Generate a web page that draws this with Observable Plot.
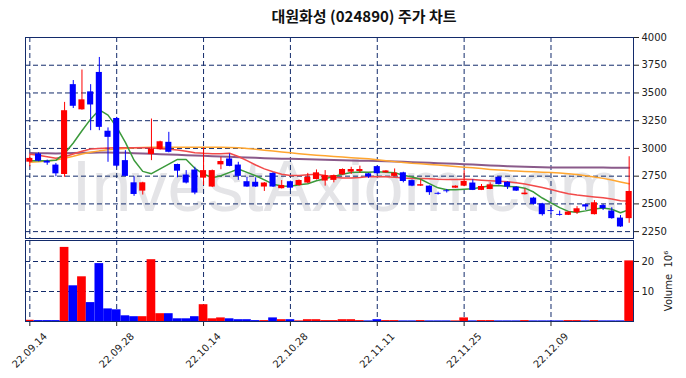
<!DOCTYPE html>
<html><head><meta charset="utf-8">
<script src="https://cdn.jsdelivr.net/npm/d3@7"></script>
<script src="https://cdn.jsdelivr.net/npm/@observablehq/plot@0.6"></script>
<style>
body{margin:0;background:#fff;}
#wrap{position:relative;width:686px;height:378px;overflow:hidden;background:#fff;}
#title{position:absolute;left:21px;width:686px;top:8px;line-height:15px;text-align:center;font-family:"Noto Sans CJK KR";font-size:15px;font-weight:bold;color:#111;z-index:3;}
#price{position:absolute;left:0;top:0;}
#vol{position:absolute;left:0;top:239px;}
</style></head><body>
<div id="wrap"><div id="title">대원화성 (024890) 주가 차트</div><div id="price"></div><div id="vol"></div></div>
<script>
const dates = ["22.09.14","22.09.15","22.09.16","22.09.19","22.09.20","22.09.21","22.09.22","22.09.23","22.09.26","22.09.27",
"22.09.28","22.09.29","22.09.30","22.10.04","22.10.05","22.10.06","22.10.07","22.10.11","22.10.12","22.10.13",
"22.10.14","22.10.17","22.10.18","22.10.19","22.10.20","22.10.21","22.10.24","22.10.25","22.10.26","22.10.27",
"22.10.28","22.10.31","22.11.01","22.11.02","22.11.03","22.11.04","22.11.07","22.11.08","22.11.09","22.11.10",
"22.11.11","22.11.14","22.11.15","22.11.16","22.11.17","22.11.18","22.11.21","22.11.22","22.11.23","22.11.24",
"22.11.25","22.11.28","22.11.29","22.11.30","22.12.01","22.12.02","22.12.05","22.12.06","22.12.07","22.12.08",
"22.12.09","22.12.12","22.12.13","22.12.14","22.12.15","22.12.16","22.12.19","22.12.20","22.12.21","22.12.22"];
const open = [2876,2950,2885,2850,2765,3575,3348,3510,3685,3155,
3270,2890,2690,2615,2945,2990,3055,2855,2760,2805,
2732,2652,2852,2905,2850,2700,2695,2652,2775,2637,
2700,2666,2688,2720,2706,2712,2762,2786,2792,2771,
2836,2780,2748,2780,2710,2660,2660,2595,2618,2642,
2660,2688,2622,2630,2740,2695,2650,2583,2552,2500,
2439,2405,2397,2420,2492,2403,2485,2435,2372,2367];
const high = [2940,2960,2895,2865,3415,3612,3707,3575,3820,3185,
3280,2980,2745,2695,3265,3065,3145,2858,2800,2830,
3005,2805,2920,2950,2875,2740,2735,2692,2780,2710,
2705,2715,2775,2806,2800,2760,2815,2830,2840,2775,
2840,2800,2815,2785,2715,2717,2662,2605,2630,2662,
2800,2717,2675,2690,2745,2700,2655,2636,2560,2505,
2466,2435,2430,2475,2495,2530,2495,2465,2395,2925];
const low = [2835,2880,2848,2745,2740,3360,3345,3160,3160,2875,
2830,2745,2568,2580,2890,2985,2960,2735,2680,2582,
2665,2648,2808,2835,2712,2650,2648,2612,2648,2634,
2622,2660,2683,2715,2660,2690,2758,2765,2775,2730,
2768,2776,2745,2690,2655,2657,2577,2580,2598,2640,
2655,2620,2620,2628,2670,2630,2612,2580,2490,2390,
2402,2390,2395,2405,2440,2400,2440,2362,2288,2325];
const close = [2910,2885,2868,2771,3340,3380,3438,3392,3190,3100,
2840,2748,2585,2690,2995,3060,2965,2795,2688,2598,
2800,2800,2882,2838,2748,2652,2652,2688,2652,2666,
2642,2711,2740,2780,2755,2755,2810,2810,2810,2742,
2772,2797,2777,2702,2660,2673,2601,2587,2610,2660,
2702,2622,2657,2672,2675,2652,2615,2597,2496,2403,
2431,2397,2426,2456,2472,2510,2457,2367,2292,2612];
const volume = [0.4,0.3,0.3,0.3,24.7,11.9,14.9,6.3,19.3,4.2,
3.9,1.9,1.6,1.6,20.6,2.6,2.6,0.9,0.9,1.6,
5.6,0.9,1.2,0.9,0.6,0.6,0.3,0.3,1.2,0.6,
0.6,0.2,0.6,0.6,0.3,0.3,0.6,0.6,0.3,0.2,
0.6,0.3,0.3,0.2,0.2,0.3,0.2,0.2,0.2,0.2,
1.2,0.2,0.3,0.3,0.2,0.2,0.2,0.3,0.2,0.2,
0.2,0.2,0.3,0.3,0.2,0.3,0.2,0.2,0.2,20.2];
const ma5 = [2890,2890,2888,2893,2955,3049,3159,3264,3348,3300,
3192,3054,2893,2793,2772,2816,2859,2901,2901,2821,
2769,2736,2754,2784,2814,2784,2754,2716,2678,2662,
2660,2672,2682,2708,2726,2748,2768,2782,2788,2785,
2789,2786,2780,2758,2742,2722,2683,2645,2627,2627,
2633,2637,2651,2663,2666,2656,2654,2642,2607,2553,
2509,2466,2432,2424,2437,2453,2464,2452,2420,2448];
const ma20 = [2948,2938,2925,2912,2925,2950,2975,2995,3000,3003,
3005,3005,3005,3005,3005,2998,2992,2985,2975,2962,
2956,2952,2953,2956,2927,2890,2851,2816,2789,2767,
2757,2755,2763,2768,2756,2740,2733,2733,2739,2747,
2745,2745,2740,2733,2729,2730,2727,2722,2720,2720,
2723,2719,2714,2709,2705,2700,2690,2679,2664,2647,
2630,2610,2592,2580,2571,2563,2555,2544,2528,2526];
const ma60 = [2876,2880,2886,2895,2912,2930,2950,2965,2978,2988,
2995,3000,3005,3008,3010,3011,3011,3011,3011,3011,
3011,3011,3010,3008,3005,3000,2992,2984,2976,2968,
2960,2953,2946,2939,2933,2927,2922,2917,2912,2906,
2898,2890,2881,2873,2866,2861,2855,2850,2844,2838,
2831,2825,2818,2811,2805,2800,2796,2792,2789,2786,
2783,2778,2772,2764,2754,2743,2730,2715,2698,2681];
const ma120 = [2958,2957,2956,2955,2956,2958,2960,2962,2963,2963,
2962,2960,2957,2954,2951,2948,2945,2942,2939,2936,
2933,2930,2927,2924,2921,2918,2915,2912,2910,2908,
2906,2904,2902,2900,2898,2896,2894,2892,2890,2888,
2886,2884,2882,2879,2876,2873,2870,2867,2864,2861,
2858,2855,2851,2847,2843,2840,2837,2834,2832,2830,
2829,2828,2828,2828,2827,2827,2827,2826,2826,2826];
const priceTicks = [2250,2500,2750,3000,3250,3500,3750,4000];
const volumeTicks = [10,20];
const labelDates = ["22.09.14","22.09.28","22.10.14","22.10.28","22.11.11","22.11.25","22.12.09"];

const rows = dates.map((d,i)=>({date:d, open:open[i], high:high[i], low:low[i], close:close[i],
  volume:volume[i], ma5:ma5[i], ma20:ma20[i], ma60:ma60[i], ma120:ma120[i],
  col: close[i] >= open[i] ? "#ff0000" : "#0000ff"}));

const navy = "#132b6b";
const dash = {stroke:navy, strokeDasharray:"5,3", strokeWidth:1};
const font = "DejaVu Sans";

const price = Plot.plot({
  width:686, height:239, marginTop:37, marginBottom:1, marginLeft:25, marginRight:53,
  style:{background:"transparent", fontFamily:font, fontSize:"10px", color:"#222"},
  x:{type:"band", domain:dates, padding:0, axis:null, label:null},
  y:{domain:[2188,4000], axis:null, label:null},
  marks:[
    Plot.text(["InvestAxiom.com"], {frameAnchor:"middle", dx:16, dy:50, fontSize:72, fill:"#e4e4e7", fontFamily:"Liberation Sans"}),
    Plot.ruleY(priceTicks, dash),
    Plot.ruleX(labelDates, dash),
    Plot.line(rows, {x:"date", y:"ma120", stroke:"#8a5a8a", strokeWidth:2}),
    Plot.line(rows, {x:"date", y:"ma60", stroke:"#ffa630", strokeWidth:1.5}),
    Plot.line(rows, {x:"date", y:"ma20", stroke:"#f24a4a", strokeWidth:1.5}),
    Plot.line(rows, {x:"date", y:"ma5", stroke:"#3b9a3b", strokeWidth:1.5}),
    Plot.ruleX(rows, {x:"date", y1:"low", y2:"high", stroke:"col", strokeWidth:1}),
    Plot.barY(rows, {x:"date", y1:"open", y2:"close", fill:"col", insetLeft:1.3, insetRight:1.3}),
    Plot.axisY(priceTicks, {anchor:"right", label:null, tickSize:5, tickPadding:3, tickFormat:d=>String(d), fontSize:10}),
    Plot.frame({stroke:navy})
  ]
});
document.getElementById("price").appendChild(price);

const vol = Plot.plot({
  width:686, height:139, marginTop:1, marginBottom:57, marginLeft:25, marginRight:53,
  style:{background:"transparent", fontFamily:font, fontSize:"10px", color:"#222"},
  x:{type:"band", domain:dates, padding:0, axis:null, label:null},
  y:{domain:[0,27], axis:null, label:null},
  marks:[
    Plot.ruleY(volumeTicks, dash),
    Plot.ruleX(labelDates, dash),
    Plot.barY(rows, {x:"date", y:"volume", fill:"col"}),
    Plot.axisY(volumeTicks, {anchor:"right", label:null, tickSize:5, tickPadding:3, tickFormat:d=>String(d), fontSize:10}),
    Plot.axisX(labelDates, {anchor:"bottom", label:null, tickSize:5, tickFormat:()=>""}),
    Plot.text(labelDates, {x:d=>d, frameAnchor:"bottom", dy:29, rotate:-45, textAnchor:"middle", lineAnchor:"middle", fontSize:10, fill:"#222"}),
    Plot.text(["Volume  10⁶"], {frameAnchor:"right", dx:35, rotate:-90, textAnchor:"middle", lineAnchor:"middle", fontSize:10, fill:"#222"}),
    Plot.frame({stroke:navy})
  ]
});
document.getElementById("vol").appendChild(vol);
</script>
</body></html>
